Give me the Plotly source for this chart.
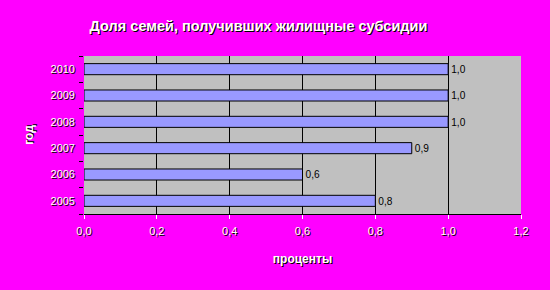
import plotly.graph_objects as go

years = ["2005", "2006", "2007", "2008", "2009", "2010"]
values = [0.8, 0.6, 0.9, 1.0, 1.0, 1.0]
x_ticks = [0.0, 0.2, 0.4, 0.6, 0.8, 1.0, 1.2]

title = "Доля семей, получивших жилищные субсидии"
x_title = "проценты"
y_title = "год"

FONT = "Liberation Sans, Arial, sans-serif"
SHADOW = "1px 1px 0px black"

fig = go.Figure(go.Bar(
    y=years, x=values, orientation="h",
    marker=dict(color="#9999FF", line=dict(color="black", width=1)),
    width=0.42,
    text=values, texttemplate="%{x:.1f}", textposition="outside",
    textfont=dict(family=FONT, size=11, color="black", shadow="none"),
    cliponaxis=False,
))

fig.update_layout(
    width=550, height=290,
    margin=dict(l=84, r=29, t=56, b=76),
    paper_bgcolor="#FF00FF", plot_bgcolor="#C0C0C0",
    separators=", ",
    font=dict(family=FONT, size=11, color="white", shadow=SHADOW),
    title=dict(text="<b>" + title + "</b>", x=0.47, xanchor="center", y=0.91, yanchor="middle",
               font=dict(family=FONT, size=14.5, color="white", shadow=SHADOW)),
    showlegend=False,
    xaxis=dict(range=[0, 1.2], tickvals=x_ticks, tickformat=".1f",
               showgrid=True, gridcolor="black", gridwidth=1,
               ticks="outside", ticklen=4, tickcolor="white",
               ticklabelstandoff=3,
               showline=True, linecolor="black", linewidth=1,
               zeroline=False,
               title=dict(text="<b>" + x_title + "</b>", standoff=18,
                          font=dict(family=FONT, size=12, color="white", shadow=SHADOW)),
               tickfont=dict(family=FONT, size=11, color="white", shadow=SHADOW)),
    yaxis=dict(type="category", tickson="boundaries", ticks="outside", ticklen=4,
               tickcolor="black", showgrid=False, showline=False,
               ticklabelstandoff=8,
               title=dict(text="<b>" + y_title + "</b>", standoff=14,
                          font=dict(family=FONT, size=12, color="white", shadow=SHADOW)),
               tickfont=dict(family=FONT, size=11, color="white", shadow=SHADOW)),
)

fig.write_html("out.html")
